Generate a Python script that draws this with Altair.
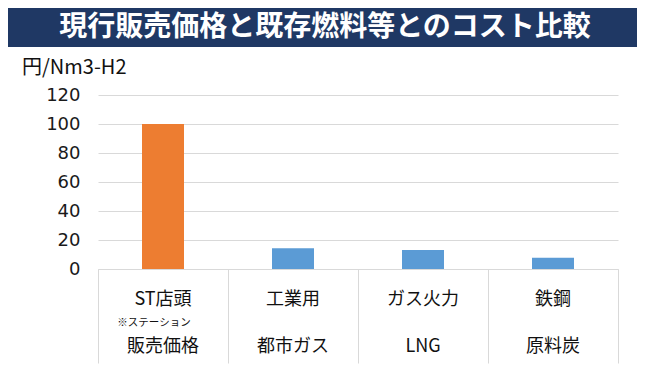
import altair as alt
import pandas as pd

categories = ["ST店頭", "工業用", "ガス火力", "鉄鋼"]
line2 = ["販売価格", "都市ガス", "LNG", "原料炭"]
note = ["※ステーション", "", "", ""]
values = [100, 14.3, 13.1, 7.8]
kinds = ["現行", "既存", "既存", "既存"]
title_text = "現行販売価格と既存燃料等とのコスト比較"
unit_text = "円/Nm3-H2"
y_ticks = [0, 20, 40, 60, 80, 100, 120]

df = pd.DataFrame({"cat": categories, "l2": line2, "note": note,
                   "value": values, "kind": kinds})
one = pd.DataFrame({"t": [title_text], "u": [unit_text]})

JP = "Noto Sans CJK JP"

xenc = alt.X("cat:N", sort=categories, title=None,
             scale=alt.Scale(paddingInner=0, paddingOuter=0),
             axis=alt.Axis(labels=False, domainColor="#d9d9d9", tickColor="#d9d9d9",
                           tickBand="extent", tickSize=94, domainWidth=1))

bars = alt.Chart(df).mark_bar(size=42).encode(
    x=xenc,
    y=alt.Y("value:Q", title=None,
            scale=alt.Scale(domain=[0, 120], nice=False),
            axis=alt.Axis(values=y_ticks, domain=False, ticks=False, gridColor="#d9d9d9",
                          labelFont="DejaVu Sans", labelFontSize=18, labelColor="#1a1a1a",
                          labelPadding=18)),
    color=alt.Color("kind:N", legend=None,
                    scale=alt.Scale(domain=["現行", "既存"], range=["#ed7d31", "#5b9bd5"])),
)

t1 = alt.Chart(df).mark_text(font=JP, fontSize=18, color="#111", baseline="middle").encode(
    x=alt.X("cat:N", sort=categories), y=alt.value(205), text="cat:N")
t2 = alt.Chart(df).mark_text(font=JP, fontSize=10.5, color="#111", baseline="middle", dx=-9).encode(
    x=alt.X("cat:N", sort=categories), y=alt.value(228), text="note:N")
t3 = alt.Chart(df).mark_text(font=JP, fontSize=18, color="#111", baseline="middle").encode(
    x=alt.X("cat:N", sort=categories), y=alt.value(252), text="l2:N")

bar_bg = alt.Chart(one).mark_rect(color="#1f3864", clip=False).encode(
    x=alt.value(-90), x2=alt.value(542), y=alt.value(-87), y2=alt.value(-48))
title = alt.Chart(one).mark_text(font=JP, fontSize=28, fontWeight="bold", color="white",
                                 baseline="middle", align="center").encode(
    x=alt.value(227), y=alt.value(-67), text="t:N")
unit = alt.Chart(one).mark_text(font=JP, fontSize=20, color="#111", baseline="middle",
                                align="left").encode(
    x=alt.value(-76), y=alt.value(-27), text="u:N")

chart = alt.layer(bars, t1, t2, t3, bar_bg, title, unit).properties(
    width=520, height=174,
    autosize=alt.AutoSizeParams(type="none"),
    padding={"left": 90, "top": 87, "right": 19, "bottom": 98},
).configure_view(stroke=None)

chart.save("out.html", embed_options={"renderer": "svg", "actions": False})
